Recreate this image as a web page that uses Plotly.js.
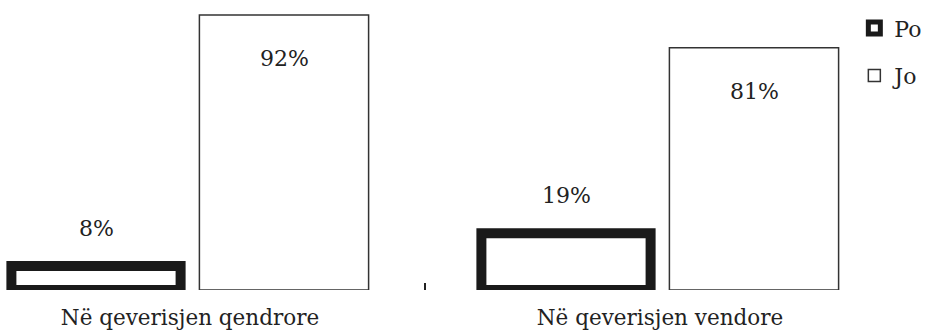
<!DOCTYPE html>
<html>
<head>
<meta charset="utf-8">
<script src="https://cdn.plot.ly/plotly-3.0.1.min.js"></script>
<style>html,body{margin:0;padding:0;background:#fff;}#chart{width:930px;height:331px;}</style>
</head>
<body>
<div id="chart"></div>
<script>
// ---- data ----
const categories = ["Në qeverisjen qendrore", "Në qeverisjen vendore"];
const seriesNames = ["Po", "Jo"];
const poValues = [8, 19];
const joValues = [92, 81];
const poLabels = ["8%", "19%"];
const joLabels = ["92%", "81%"];

const FONT = "DejaVu Serif, serif";
const TXT = "#222222";

const traces = [
  {
    type: "bar", name: seriesNames[0], x: categories, y: poValues,
    marker: {color: "#ffffff", line: {color: "#1a1a1a", width: 10}},
    cliponaxis: false, hoverinfo: "none", legendgroup: "a"
  },
  {
    type: "bar", name: seriesNames[1], x: categories, y: joValues,
    marker: {color: "#ffffff", line: {color: "#333333", width: 1.5}},
    cliponaxis: false, hoverinfo: "none", legendgroup: "b"
  }
];

const annotations = [];
categories.forEach((c, i) => {
  annotations.push({x: c, y: poValues[i], xref: "x", yref: "y", text: poLabels[i],
    showarrow: false, xshift: -94, yshift: 38, yanchor: "middle",
    font: {family: FONT, size: 22, color: TXT}});
  annotations.push({x: c, y: joValues[i], xref: "x", yref: "y", text: joLabels[i],
    showarrow: false, xshift: 94, yshift: -44, yanchor: "middle",
    font: {family: FONT, size: 22, color: TXT}});
});

const layout = {
  width: 930, height: 331,
  margin: {l: 0, r: 60, t: 10, b: 41, pad: 0},
  paper_bgcolor: "#ffffff", plot_bgcolor: "#ffffff",
  barmode: "group", bargap: 0.2, bargroupgap: 0.1,
  font: {family: FONT, color: TXT},
  xaxis: {
    type: "category", range: [-0.40426, 1.44681],
    showgrid: false, zeroline: false, showline: false,
    ticks: "inside", tickson: "boundaries", ticklen: 7, tickwidth: 2, tickcolor: "#222222",
    ticklabelstandoff: 12,
    tickfont: {family: FONT, size: 21.5, color: TXT}
  },
  yaxis: {range: [0, 93.67], visible: false, showgrid: false, zeroline: false},
  showlegend: true,
  legend: {
    x: 0.982, xanchor: "left", y: 1.01, yanchor: "top",
    font: {family: FONT, size: 22, color: TXT},
    traceorder: "grouped", tracegroupgap: 16, itemwidth: 30,
    bgcolor: "rgba(0,0,0,0)"
  },
  annotations: annotations
};

Plotly.newPlot("chart", traces, layout, {staticPlot: true, displayModeBar: false});
</script>
</body>
</html>
